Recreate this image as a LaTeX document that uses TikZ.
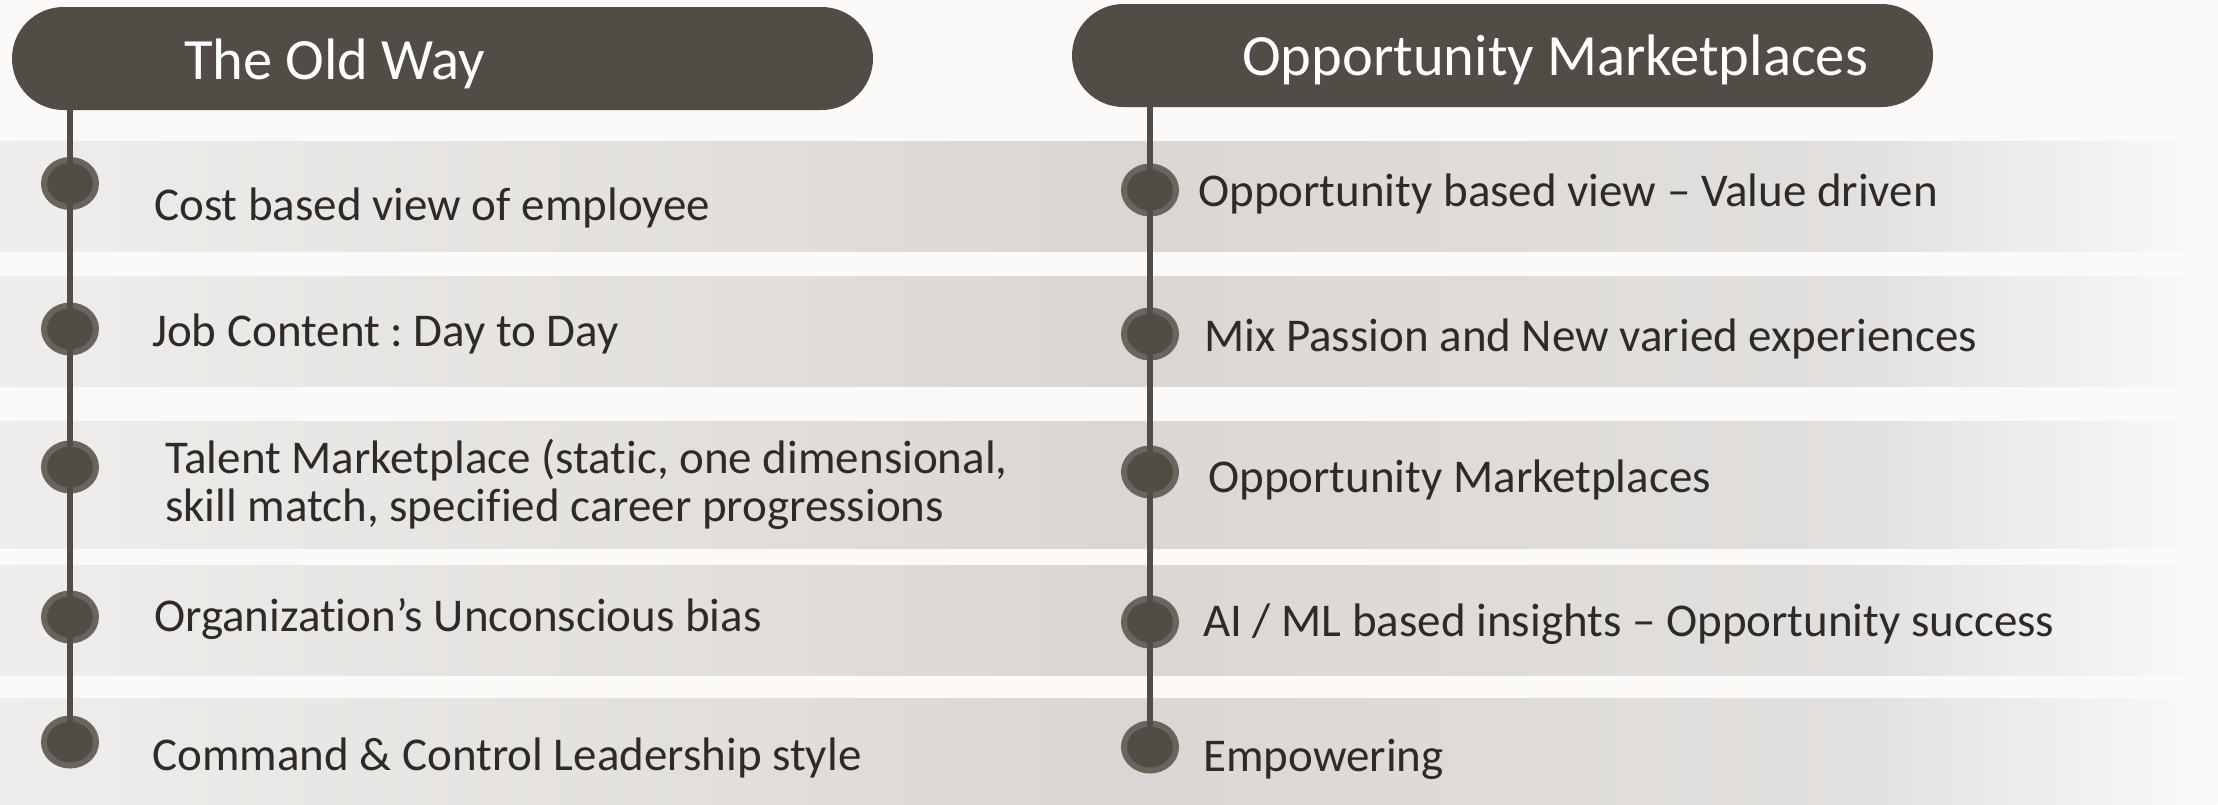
\documentclass[tikz,border=0pt]{standalone}
\usepackage{fontspec}
\setmainfont{Carlito}[Ligatures=NoCommon]
\usetikzlibrary{shapes.geometric,shapes.misc}
\definecolor{bgc}{HTML}{FBFAF8}
\definecolor{dark}{HTML}{524C47}
\definecolor{ringc}{HTML}{6A645D}
\definecolor{txt}{HTML}{2E2A27}
\definecolor{bA}{HTML}{EFEEEC}
\definecolor{bB}{HTML}{DAD6D3}
\definecolor{bC}{HTML}{E2E0DE}
\definecolor{bD}{HTML}{FAFAF9}
\frenchspacing
\begin{document}
\begin{tikzpicture}[x=1pt,y=-1pt,
 pill/.style={rounded rectangle, fill=dark, minimum width=861pt, minimum height=103pt, inner sep=0pt},
 head/.style={text=white, font=\fontsize{58.5}{60}\selectfont, anchor=base west, inner sep=0pt},
 item/.style={text=txt, font=\fontsize{47}{48}\selectfont, anchor=base west, inner sep=0pt},
 bulletdot/.style={ellipse, fill=dark, draw=ringc, line width=6pt, minimum width=52pt, minimum height=47pt, inner sep=0pt},
 vline/.style={draw=dark, line width=6.5pt}]
\fill[bgc] (0,0) rectangle (2218,804);
\useasboundingbox (0,0) rectangle (2218,804);
% bands
\foreach \t/\b in {141.7/251.7, 276.7/386.5, 421.7/548, 565.7/675.7, 698/804} {
  \shade[left color=bA, right color=bB] (0,\t) rectangle (1111,\b);
  \shade[left color=bB, right color=bC] (1110,\t) rectangle (1851,\b);
  \shade[left color=bC, right color=bD] (1850,\t) rectangle (2215,\b);
}
% headers
\node[pill] (h1) at (442.5,58.5) {};
\node[pill] (h2) at (1502.5,55.5) {};
\node[head] (ht1) at (184,79) {The Old Way};
\node[head] (ht2) at (1242,75) {Opportunity Marketplaces};
% bullets
\node[bulletdot] (l1) at (70,183.5) {};
\node[bulletdot] (l2) at (70,329) {};
\node[bulletdot] (l3) at (70,467) {};
\node[bulletdot] (l4) at (70,617) {};
\node[bulletdot] (l5) at (70,742) {};
\node[bulletdot] (r1) at (1150,190) {};
\node[bulletdot] (r2) at (1150,334) {};
\node[bulletdot] (r3) at (1150,472) {};
\node[bulletdot] (r4) at (1150,622) {};
\node[bulletdot] (r5) at (1150,747) {};
% vertical lines
\draw[vline] (h1.south -| l1.center) -- (l1.center) -- (l2.center) -- (l3.center) -- (l4.center) -- (l5.center);
\draw[vline] (h2.south -| r1.center) -- (r1.center) -- (r2.center) -- (r3.center) -- (r4.center) -- (r5.center);
% left texts
\node[item] (t1) at (154,220) {Cost based view of employee};
\node[item] (t2) at (152,346) {Job Content : Day to Day};
\node[item] (t3a) at (165,473) {Talent Marketplace (static, one dimensional,};
\node[item] (t3b) at (165,521) {skill match, specified career progressions};
\node[item] (t4) at (154,631) {Organization’s Unconscious bias};
\node[item] (t5) at (152,770) {Command \& Control Leadership style};
% right texts
\node[item] (u1) at (1198,206) {Opportunity based view – Value driven};
\node[item] (u2) at (1204,351) {Mix Passion and New varied experiences};
\node[item] (u3) at (1208,492) {Opportunity Marketplaces};
\node[item] (u4) at (1203,636) {AI / ML based insights – Opportunity success};
\node[item] (u5) at (1203,771) {Empowering};
\end{tikzpicture}
\end{document}
